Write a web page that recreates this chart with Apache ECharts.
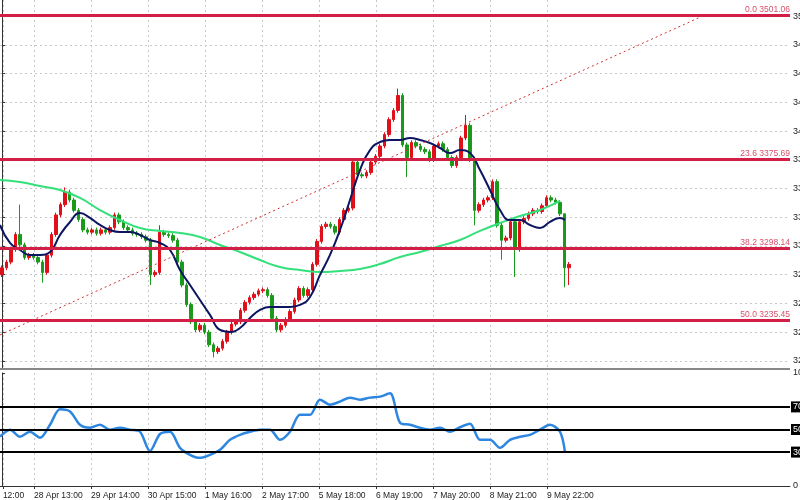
<!DOCTYPE html>
<html><head><meta charset="utf-8">
<script src="https://cdn.jsdelivr.net/npm/echarts@6/dist/echarts.min.js"></script>
<style>html,body{margin:0;padding:0;background:#fff}#c{width:800px;height:500px}</style>
</head><body><div id="c"></div>
<script>
// ---- data ----
const closes = [3281,3286,3297,3310,3301,3290,3292,3290,3286,3277,
3292,3310,3327,3336,3347,3340,3331,3323,3314,3312,
3314,3311,3314,3312,3316,3327,3321,3316,3314,3311,
3310,3308,3305,3275,3277,3312,3310,3309,3305,3286,
3266,3249,3234,3227,3231,3225,3214,3208,3211,3217,
3225,3232,3234,3244,3251,3255,3258,3261,3262,3257,
3237,3227,3231,3236,3243,3253,3263,3257,3262,3284,
3304,3317,3319,3317,3312,3323,3331,3333,3373,3362,
3361,3364,3373,3378,3387,3397,3410,3418,3431,3388,
3377,3390,3387,3384,3382,3375,3387,3389,3384,3377,
3370,3377,3394,3405,3375,3331,3336,3340,3342,3356,
3318,3305,3307,3321,3297,3321,3324,3328,3331,3330,
3335,3342,3340,3338,3328,3281,3284];
const firstOpen = 3275;
const highSpikes = [[4,3336],[14,3351],[35,3318],[88,3437],[103,3414],[125,3318],[69,3286]];
const lowSpikes = [[9,3268],[33,3266],[47,3203],[90,3360],[105,3318],[111,3288],[114,3273],[125,3264],[126,3266]];
const maFast = [3318.3,3302.6,3296.5,3292.2,3292.2,3294.8,3309.6,3320.9,3328.7,3324.4,3318.3,3313.9,3312.2,3312.2,3309.6,3305.2,3302.6,3296.5,3279.1,3266.1,3253,3240,3226.9,3225.2,3228.6,3237.3,3244.3,3246.9,3246.9,3246.9,3248.7,3255.6,3274.8,3292.2,3313.9,3340,3366.1,3383.5,3390.5,3392.3,3392.3,3394,3392.3,3389.6,3385.3,3380.9,3383.5,3380.9,3366.1,3348.7,3331.3,3322.6,3322.6,3318.3,3315.7,3320.9,3324.4,3322.6];
const maSlow = [3357.4,3355.7,3352.2,3348.7,3341.8,3331.3,3322.6,3315.7,3313.1,3311.3,3307.8,3300.9,3294.8,3287.8,3281.7,3279.1,3277.4,3278.3,3280,3284.3,3290.4,3294.8,3300,3305.2,3313.1,3320,3326.1,3331.3,3339.2];
const rsi = [43.6,49.8,43.6,48,42.7,54.2,68,66,54.2,51.6,54.2,49.8,51.6,49.8,48,31,46,48,33.8,27.6,24.9,27.6,32,40.9,45.3,48,49.8,49.8,40.9,48,63,63,76.4,72,74.7,78.2,76.4,78.2,79.1,82,56,54.2,51.6,49.8,51.6,48,52,55,40.9,40.9,33.8,40.9,43.6,45.3,49.8,54.2,48,30.2];
const fibLevels = [[3501.06,'0.0 3501.06'],[3375.69,'23.6 3375.69'],[3298.14,'38.2 3298.14'],[3235.45,'50.0 3235.45']];
const trendLine = [[-0.44,3222.6],[156.2,3501.06]];
const tickIdx = [0.2,7.1,19.8,32.4,45.1,57.8,70.4,83.1,95.8,108.4,121.1];
const tickLabels = ['12:00','28 Apr 13:00','29 Apr 14:00','30 Apr 15:00','1 May 16:00','2 May 17:00','5 May 18:00','6 May 19:00','7 May 20:00','8 May 21:00','9 May 22:00'];
const priceTicks = [3200,3225,3250,3275,3300,3325,3350,3375,3400,3425,3450,3475,3500];
const rsiLevels = [70,50,30];
const lastPrice = 3277.6;

// ---- build ----
const hi = {}, lo = {};
highSpikes.forEach(([i,v])=>hi[i]=v); lowSpikes.forEach(([i,v])=>lo[i]=v);
const candles = closes.map((c,i)=>{
  const o = i===0?firstOpen:closes[i-1];
  const h = hi[i]!==undefined?hi[i]:Math.max(o,c)+2;
  const l = lo[i]!==undefined?lo[i]:Math.min(o,c)-2;
  return [i,o,c,l,h];
});
const pos = (k)=> -0.44 + k*2.222;
const fastData = maFast.map((v,k)=>[k===maFast.length-1?125.1:pos(k),v]);
const slowData = maSlow.map((v,k)=>[pos(2*k),v]);
const rsiData = rsi.map((v,k)=>[k===rsi.length-1?125.1:pos(k),v]);
const xMin=-0.44, xMax=175.1;
const labelMap = {}; tickIdx.forEach((t,k)=>labelMap[t]=tickLabels[k]);
const gridLine = {show:true,lineStyle:{color:'#c8c8c8',type:[2,3],width:1}};
const chart = echarts.init(document.getElementById('c'));
chart.setOption({
  animation:false,
  grid:[{left:0,right:10,top:0,height:368,outerBoundsMode:'none',containLabel:false},
        {left:0,right:10,top:373,height:113,outerBoundsMode:'none',containLabel:false}],
  xAxis:[
    {type:'value',gridIndex:0,min:xMin,max:xMax,axisLine:{show:false},axisPointer:{show:false},
     splitLine:gridLine,
     axisTick:{show:false,customValues:tickIdx},axisLabel:{show:false,customValues:tickIdx}},
    {type:'value',gridIndex:1,min:xMin,max:xMax,axisLine:{show:true,lineStyle:{color:'#333'}},
     axisTick:{show:true,customValues:tickIdx,length:3,lineStyle:{color:'#333'}},
     axisLabel:{customValues:tickIdx,formatter:v=>labelMap[v]||'',align:'left',fontSize:8.5,color:'#222',fontFamily:'Liberation Sans',margin:5,hideOverlap:false},
     splitLine:gridLine}
  ],
  yAxis:[
    {type:'value',gridIndex:0,position:'right',min:3193.8,max:3514.1,
     axisLine:{show:true,lineStyle:{color:'#333'}},axisTick:{show:true,customValues:priceTicks,length:3},
     axisLabel:{customValues:priceTicks,formatter:v=>v.toFixed(2),fontSize:9,color:'#222',margin:3,fontFamily:'Liberation Sans'},
     splitLine:{show:true,lineStyle:{color:'#c8c8c8',type:[2,3]}}},
    {type:'value',gridIndex:1,position:'right',min:0,max:100,
     axisLine:{show:true,lineStyle:{color:'#333'}},axisTick:{show:true,customValues:[0,100],length:3},
     axisLabel:{customValues:[0,100],fontSize:9,color:'#222',margin:3,fontFamily:'Liberation Sans'},
     splitLine:{show:false}}
  ],
  graphic:[{type:'rect',shape:{x:0,y:368,width:790,height:2},style:{fill:'#888'},z:10}],
  series:[
    {type:'candlestick',xAxisIndex:0,yAxisIndex:0,data:candles,barWidth:3,
     itemStyle:{color:'#e0101a',color0:'#1a9a1a',borderColor:'#e0101a',borderColor0:'#1a9a1a',borderWidth:1},
     markLine:{silent:true,symbol:'none',animation:false,data:[
       ...fibLevels.map(([v,t])=>({yAxis:v,lineStyle:{color:'#d21f45',width:3,type:'solid'},
          label:{show:true,position:'insideEndTop',formatter:t,color:'#d8506a',fontSize:8.5,distance:[0,1],fontFamily:'Liberation Sans'}})),
       [{coord:trendLine[0],lineStyle:{color:'#d23030',width:1,type:[2,3]},label:{show:false}},{coord:trendLine[1]}],
       {yAxis:lastPrice,lineStyle:{opacity:0},label:{show:true,position:'end',formatter:lastPrice.toFixed(2),backgroundColor:'#000',color:'#fff',fontSize:9,padding:[1,2],distance:1}}
     ]}},
    {type:'line',xAxisIndex:0,yAxisIndex:0,data:slowData,smooth:true,showSymbol:false,lineStyle:{color:'#33e07a',width:2}},
    {type:'line',xAxisIndex:0,yAxisIndex:0,data:fastData,smooth:true,showSymbol:false,lineStyle:{color:'#0c1660',width:2}},
    {type:'line',xAxisIndex:1,yAxisIndex:1,data:rsiData,smooth:0.3,showSymbol:false,lineStyle:{color:'#2d86e0',width:2.5},
     markLine:{silent:true,symbol:'none',data:rsiLevels.map(v=>({yAxis:v,lineStyle:{color:'#000',width:2,type:'solid'},
       label:{show:true,position:'end',formatter:String(v),backgroundColor:'#000',color:'#fff',fontSize:9,padding:[1,2],distance:1}}))}}
  ]
});
</script></body></html>
